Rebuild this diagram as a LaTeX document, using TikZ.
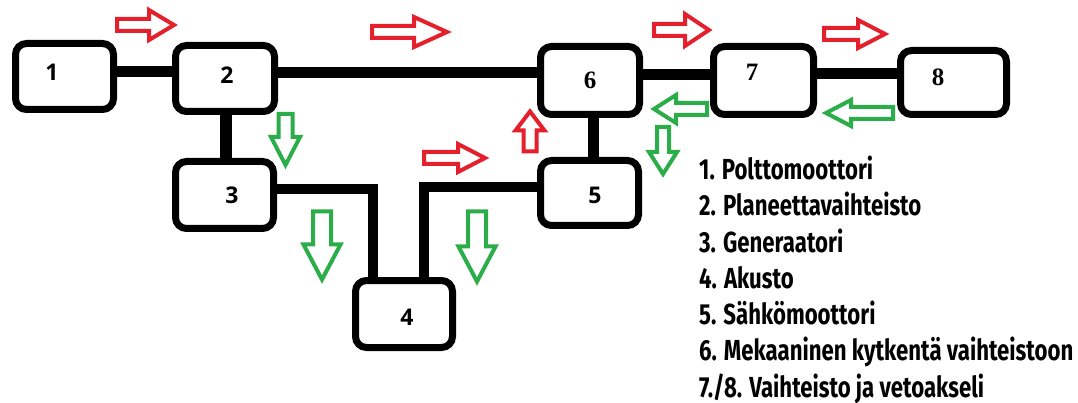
\documentclass[tikz,border=0pt]{standalone}
\usepackage{fontspec}
\usetikzlibrary{backgrounds}
\newfontfamily\digitfont{Open Sans}
\newfontfamily\serifdigit{Liberation Serif}
\newfontfamily\legendfont{Fira Sans}[FakeStretch=0.765]
\definecolor{flowred}{HTML}{E3202B}
\definecolor{flowgreen}{HTML}{2BAE4A}

% block arrow: style, centre x, centre y, angle, length, head half width, body half width, head length
\newcommand\blockarrow[8]{%
  \draw[#1, shift={(#2,#3)}, rotate=#4]
    ({-#5/2+2},{-#7+2}) -- ({#5/2-#8},{-#7+2}) -- ({#5/2-#8},{-#6+2})
    -- ({#5/2-3},0) -- ({#5/2-#8},{#6-2}) -- ({#5/2-#8},{#7-2})
    -- ({-#5/2+2},{#7-2}) -- cycle;}

\tikzset{
  unit/.style={draw=black, line width=7pt, fill=white, rounded corners=11pt,
    inner sep=0pt, minimum width=#1},
  unit/.default=98pt,
  conn/.style={line width=11pt, line join=miter},
  numsans/.style={font=\digitfont\bfseries\fontsize{23}{23}\selectfont},
  numserif/.style={font=\serifdigit\bfseries\fontsize{25}{25}\selectfont},
  legend/.style={anchor=base west, inner sep=0pt,
    font=\legendfont\bfseries\fontsize{29}{29}\selectfont},
  redarrow/.style={draw=flowred, line width=4pt, fill=white, line join=miter},
  greenarrow/.style={draw=flowgreen, line width=4pt, fill=white, line join=miter},
}

\begin{document}
\begin{tikzpicture}[x=1pt, y=-1pt]
\useasboundingbox (0,0) rectangle (1078,403);

% units
\node[unit, minimum height=66pt] (b1) at (64.5,76.5) {};
\node[unit=99pt, minimum height=66pt] (b2) at (225,78.5) {};
\node[unit, minimum height=67pt] (b3) at (224.5,195) {};
\node[unit=97pt, minimum height=67pt] (b4) at (404,314) {};
\node[unit, minimum height=65pt] (b5) at (589.5,193) {};
\node[unit=99pt, minimum height=68pt] (b6) at (590,80.5) {};
\node[unit=100pt, minimum height=68pt] (b7) at (763.5,80.5) {};
\node[unit=106pt, minimum height=64pt] (b8) at (953.5,82.5) {};

% unit numbers
\node[numsans] (n1) at (52,72) {1};
\node[numsans] (n2) at (227,75) {2};
\node[numsans] (n3) at (232,195) {3};
\node[numsans] (n4) at (407,317) {4};
\node[numsans] (n5) at (595,195) {5};
\node[numserif] (n6) at (590,80) {6};
\node[numserif] (n7) at (752,72) {7};
\node[numserif] (n8) at (938,77) {8};

% shafts and links
\begin{scope}[on background layer]
  \draw[conn] (b1.east |- 0,72) -- (b2.west |- 0,72);
  \draw[conn] (b2.east |- 0,73) -- (b6.west |- 0,73);
  \draw[conn] (b6.east |- 0,75) -- (b7.west |- 0,75);
  \draw[conn] (b7.east |- 0,74) -- (b8.west |- 0,74);
  \draw[conn, line width=12pt] (b2.south -| 226,0) -- (b3.north -| 226,0);
  \draw[conn, line width=11pt] (b6.south -| 593,0) -- (b5.north -| 593,0);
  \draw[conn, line width=10pt] (b3.east |- 0,189) -| (b4.north -| 373,0);
  \draw[conn, line width=10pt] (b5.west |- 0,187) -| (b4.north -| 424,0);
\end{scope}

% mechanical power flow
\blockarrow{redarrow}{146}{25}{0}{62}{17}{8}{28}
\blockarrow{redarrow}{410}{32}{0}{80}{17}{8}{36}
\blockarrow{redarrow}{455}{158}{0}{66}{16}{8}{30}
\blockarrow{redarrow}{530}{131}{90}{45}{16.5}{8.5}{22}
\blockarrow{redarrow}{682}{30}{0}{60}{18}{8}{27}
\blockarrow{redarrow}{855}{34}{0}{66}{16}{8}{30}

% electrical / regenerative flow
\blockarrow{greenarrow}{285.5}{140}{-90}{56}{16.5}{9}{31}
\blockarrow{greenarrow}{322}{246}{-90}{73}{20.5}{11}{38}
\blockarrow{greenarrow}{477}{247}{-90}{75}{20.5}{11}{38}
\blockarrow{greenarrow}{663}{151}{-90}{52}{16}{8}{25}
\blockarrow{greenarrow}{680}{109}{180}{58}{16}{8}{25}
\blockarrow{greenarrow}{859}{113}{180}{72}{15}{8}{28}

% legend
\node[legend] (l1) at (699,180) {1. Polttomoottori};
\node[legend] (l2) at (699,216) {2. Planeettavaihteisto};
\node[legend] (l3) at (699,252) {3. Generaatori};
\node[legend] (l4) at (699,288) {4. Akusto};
\node[legend] (l5) at (699,324) {5. Sähkömoottori};
\node[legend] (l6) at (699,360) {6. Mekaaninen kytkentä vaihteistoon};
\node[legend] (l7) at (699,397) {7./8. Vaihteisto ja vetoakseli};
\end{tikzpicture}
\end{document}
